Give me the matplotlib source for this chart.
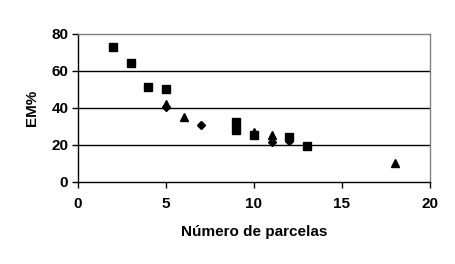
import matplotlib
matplotlib.use("Agg")
import matplotlib.pyplot as plt

plt.rcParams['font.family'] = ['Liberation Sans', 'DejaVu Sans']

# data
sq_x = [2, 3, 4, 5, 9, 9, 10, 12, 13]
sq_y = [73, 64.5, 51, 50, 32.3, 28, 25, 24, 19]
dm_x = [5, 7, 11, 12]
dm_y = [40.3, 30.8, 21.4, 22]
tr_x = [5, 6, 10, 11, 18]
tr_y = [42, 34.8, 26.8, 25, 9.8]

fig = plt.figure(figsize=(4.56, 2.64), dpi=100)
ax = fig.add_axes([0.171, 0.3125, 0.772, 0.559])

for g in [20, 40, 60]:
    ax.axhline(g, color='black', lw=1, zorder=1)

ax.plot(sq_x, sq_y, 's', color='black', ms=5.5, zorder=3)
ax.plot(dm_x, dm_y, 'D', color='black', ms=4.2, zorder=3)
ax.plot(tr_x, tr_y, '^', color='black', ms=6, zorder=3)

ax.set_xlim(0, 20)
ax.set_ylim(0, 80)
ax.set_xticks([0, 5, 10, 15, 20])
ax.set_yticks([0, 20, 40, 60, 80])

ax.spines['left'].set_color('black')
ax.spines['bottom'].set_color('black')
ax.spines['top'].set_color('#808080')
ax.spines['right'].set_color('#808080')
for s in ax.spines.values():
    s.set_linewidth(1)

ax.tick_params(direction='out', length=4, width=1, labelsize=11, color='black')
ax.tick_params(axis='x', pad=7)
ax.tick_params(axis='y', pad=3)
for lb in ax.get_xticklabels() + ax.get_yticklabels():
    lb.set_fontweight('bold')

ax.set_xlabel('Número de parcelas', fontsize=11, fontweight='bold', labelpad=10)
ax.set_ylabel('EM%', fontsize=11, fontweight='bold', labelpad=9)

fig.savefig('out.png', dpi=100)
